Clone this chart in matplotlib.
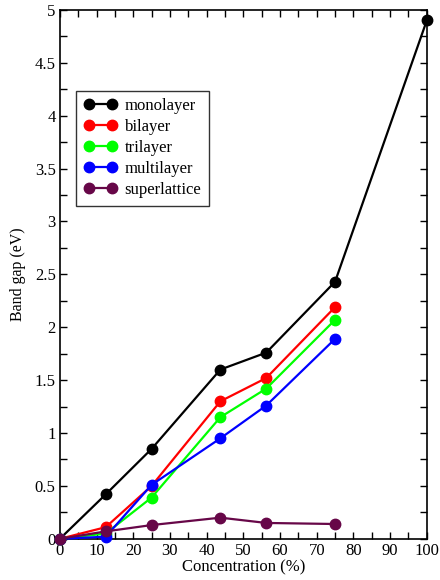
import matplotlib
matplotlib.use("Agg")
import matplotlib.pyplot as plt
from matplotlib.ticker import MultipleLocator

# concentration (%) and band gaps (eV)
conc = [0, 12.5, 25, 43.75, 56.25, 75, 100]
monolayer = [0, 0.42, 0.85, 1.60, 1.76, 2.43, 4.90]
bilayer = [0, 0.11, 0.50, 1.30, 1.52, 2.19]
trilayer = [0, 0.05, 0.39, 1.15, 1.42, 2.07]
multilayer = [0, 0.02, 0.51, 0.95, 1.26, 1.89]
superlattice = [0, 0.07, 0.13, 0.20, 0.15, 0.14]

series = [
    ("monolayer", monolayer, "#000000"),
    ("bilayer", bilayer, "#ff0000"),
    ("trilayer", trilayer, "#00ff00"),
    ("multilayer", multilayer, "#0000ff"),
    ("superlattice", superlattice, "#670748"),
]

plt.rcParams['font.family'] = ['Liberation Serif', 'DejaVu Serif']

fig = plt.figure(figsize=(4.4, 5.8), dpi=100)
ax = fig.add_axes([0.136, 0.071, 0.834, 0.912])

for name, vals, col in series:
    ax.plot(conc[:len(vals)], vals, color=col, lw=1.6, marker='o', ms=7.5,
            label=name, clip_on=False, zorder=3)

ax.set_xlim(0, 100)
ax.set_ylim(0, 5)
ax.xaxis.set_major_locator(MultipleLocator(10))
ax.xaxis.set_minor_locator(MultipleLocator(5))
ax.yaxis.set_major_locator(MultipleLocator(0.5))
ax.yaxis.set_minor_locator(MultipleLocator(0.25))
ax.set_yticks([0, 0.5, 1, 1.5, 2, 2.5, 3, 3.5, 4, 4.5, 5])
ax.set_yticklabels(["0", "0.5", "1", "1.5", "2", "2.5", "3", "3.5", "4", "4.5", "5"])
ax.tick_params(which='both', direction='in', top=True, right=True,
               length=5, width=1, labelsize=12, pad=3)
for s in ax.spines.values():
    s.set_linewidth(1.2)

ax.set_xlabel("Concentration (%)", fontsize=12, labelpad=0)
ax.set_ylabel("Band gap (eV)", fontsize=11.5, labelpad=6)

leg = ax.legend(loc='upper left', bbox_to_anchor=(0.045, 0.847), fontsize=12,
                fancybox=False, edgecolor='#333333', framealpha=1,
                handlelength=2.0, numpoints=2, borderpad=0.45,
                labelspacing=0.3, handletextpad=0.45, borderaxespad=0)
leg.get_frame().set_linewidth(1.0)

fig.savefig("out.png", dpi=100)
